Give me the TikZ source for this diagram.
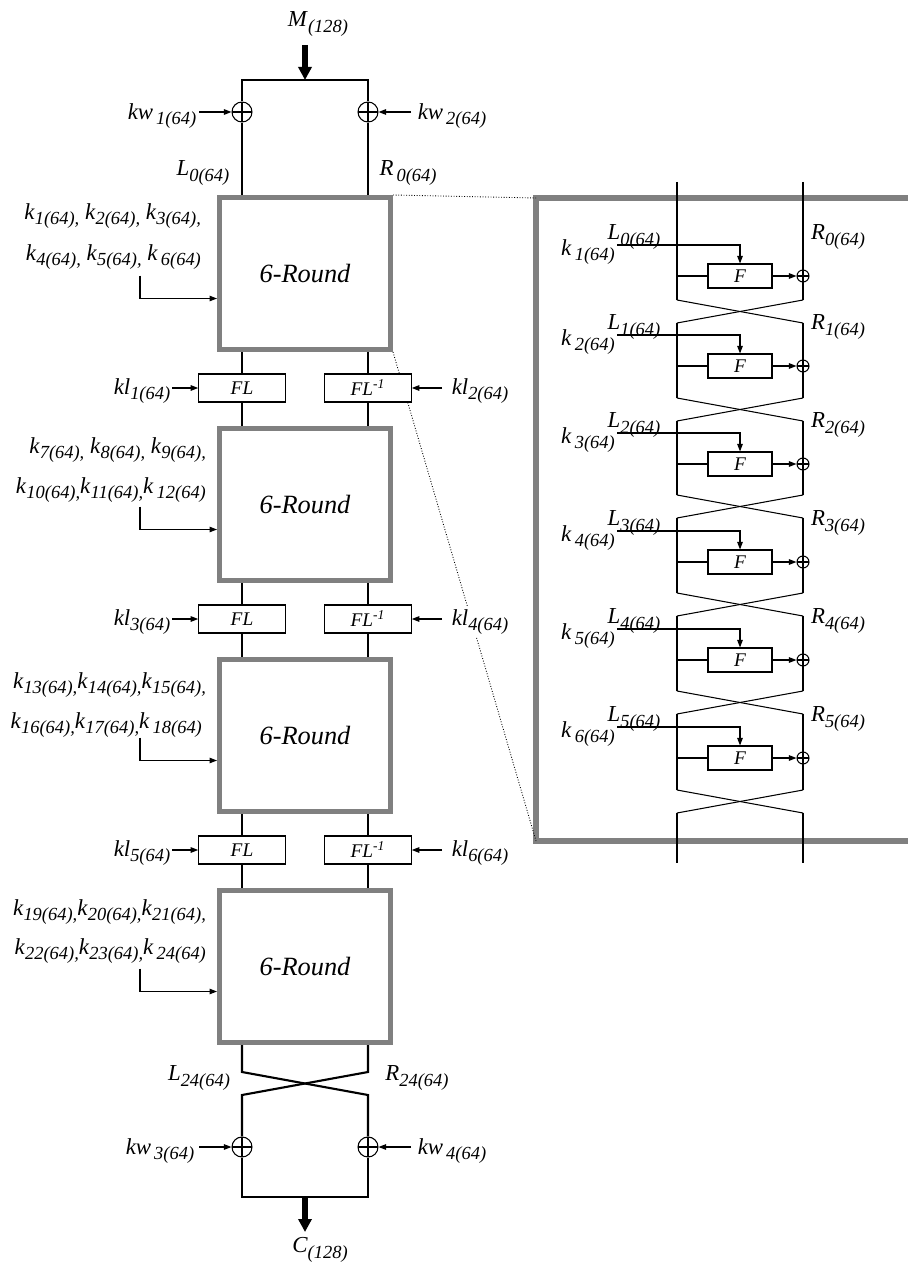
\documentclass[tikz,border=0pt]{standalone}
\usepackage{fontspec}
\setmainfont{Liberation Serif}
\usetikzlibrary{arrows.meta}

% italic symbol with italic subscript
\newcommand{\sbx}[2]{\textit{#1}\raisebox{-0.55ex}{\fontsize{10.5}{12}\selectfont\itshape #2}}
\newcommand{\kk}[1]{\sbx{k}{#1}}

\tikzset{
  lbl/.style={font=\fontsize{13}{15}\selectfont, inner sep=1pt},
  bus/.style={line width=1.2pt},
  thin line/.style={line width=0.6pt},
  arr/.style={line width=0.6pt, -{Triangle[width=1.1mm,length=1.5mm]}},
  fat/.style={line width=1.2mm, -{Triangle[width=2.6mm,length=2.6mm]}},
  xor/.style={circle, draw, line width=0.6pt, fill=white, minimum size=4mm, inner sep=0pt,
    path picture={\draw[line width=0.6pt]
      (path picture bounding box.north) -- (path picture bounding box.south)
      (path picture bounding box.west) -- (path picture bounding box.east);}},
  sxor/.style={xor, minimum size=2.4mm},
  rnd/.style={draw=black!50, line width=1mm, minimum width=34.2mm, minimum height=30.4mm,
    font=\fontsize{15}{18}\selectfont\itshape},
  flbox/.style={draw, line width=0.6pt, fill=white, minimum width=17.3mm, minimum height=5.6mm,
    inner sep=0pt, font=\fontsize{11}{13}\selectfont\itshape},
  fbox/.style={flbox, minimum width=12.8mm, minimum height=4.8mm},
  zoomline/.style={line width=0.5pt, densely dotted},
  panel/.style={draw=black!50, line width=1.1mm}
}

\begin{document}
\begin{tikzpicture}[x=0.2mm, y=-0.2mm]
  \useasboundingbox (0,0) rectangle (907,1269);

  % Input and first whitening
  \node[lbl] (msg) at (318,24) {\sbx{M}{(128)}};
  \coordinate (min) at (305,45);
  \coordinate (mtop) at (305,80);
  \node[xor] (xl0) at (242,112) {};
  \node[xor] (xr0) at (368,112) {};
  \draw[bus] (xl0) |- (mtop) -| (xr0);
  \draw[fat] (min) -- (mtop);
  \node[lbl] (kw1) at (162,116) {\sbx{kw}{\,1(64)}};
  \node[lbl] (kw2) at (452,116) {\sbx{kw}{\,2(64)}};
  \coordinate (kwa1) at (199,112);
  \coordinate (kwa2) at (411,112);
  \draw[arr] (kwa1) -- (xl0);
  \draw[arr] (kwa2) -- (xr0);
  \node[lbl] (l0) at (203,173) {\sbx{L}{0(64)}};
  \node[lbl] (r0) at (408,173) {\sbx{R}{\,0(64)}};

  % 6-round blocks
  \foreach \i/\c in {1/273.5,2/504.5,3/735.5,4/966.5}
    \node[rnd] (r\i) at (305,\c) {6-Round};

  % Zoomed panel frame and guide lines
  \coordinate (ptl) at (536,198);
  \coordinate (pbl) at (536,841);
  \draw[panel] (915,198) -| (pbl) -- (915,841);
  \draw[zoomline] (r1.north east) -- (ptl);
  \draw[zoomline] (r1.south east) -- (pbl);

  % Subkey groups
  \node[lbl, anchor=east] (kg1a) at (203,216) {\kk{1(64),} \kk{2(64),} \kk{3(64),}};
  \node[lbl, anchor=east] (kg1b) at (203,257) {\kk{4(64),} \kk{5(64),} \kk{\,6(64)}};
  \node[lbl, anchor=east] (kg2a) at (208,450) {\kk{7(64),} \kk{8(64),} \kk{9(64),}};
  \node[lbl, anchor=east] (kg2b) at (208,490) {\kk{10(64),}\kk{11(64),}\kk{\,12(64)}};
  \node[lbl, anchor=east] (kg3a) at (208,685) {\kk{13(64),}\kk{14(64),}\kk{15(64),}};
  \node[lbl, anchor=east] (kg3b) at (204,725) {\kk{16(64),}\kk{17(64),}\kk{\,18(64)}};
  \node[lbl, anchor=east] (kg4a) at (208,912) {\kk{19(64),}\kk{20(64),}\kk{21(64),}};
  \node[lbl, anchor=east] (kg4b) at (208,951) {\kk{22(64),}\kk{23(64),}\kk{\,24(64)}};
  \foreach \i/\c in {1/273.5,2/504.5,3/735.5,4/966.5}
    \draw[arr] (140,\c+2) |- ([yshift=-5mm]r\i.west);

  % FL layers
  \foreach \i/\c/\a/\b in {1/388/1/2, 2/619/3/4, 3/850/5/6} {
    \node[flbox] (fl\i) at (242,\c) {FL};
    \node[flbox] (fli\i) at (368,\c) {FL\textsuperscript{-1}};
    \node[lbl, fill=white] (kl\a) at (142,\c+3) {\sbx{kl}{\a(64)}};
    \node[lbl, fill=white] (kl\b) at (480,\c+3) {\sbx{kl}{\b(64)}};
    \coordinate (klb\i) at (442,\c);
    \draw[arr] (kl\a.east |- fl\i) -- (fl\i);
    \draw[arr] (klb\i) -- (fli\i);
  }

  % Data lines
  \draw[bus] (xl0) -- (r1.north -| xl0);
  \draw[bus] (xr0) -- (r1.north -| xr0);
  \foreach \i/\j in {1/2,2/3,3/4} {
    \draw[bus] (r\i.south -| fl\i) -- (fl\i);
    \draw[bus] (fl\i) -- (r\j.north -| fl\i);
    \draw[bus] (r\i.south -| fli\i) -- (fli\i);
    \draw[bus] (fli\i) -- (r\j.north -| fli\i);
  }

  % Final swap and output whitening
  \coordinate (cl) at (242,1072);
  \coordinate (cr) at (368,1072);
  \coordinate (dl) at (242,1095);
  \coordinate (dr) at (368,1095);
  \node[xor] (xl1) at (242,1147) {};
  \node[xor] (xr1) at (368,1147) {};
  \draw[bus] (r4.south -| cl) -- (cl) -- (dr) -- (xr1);
  \draw[bus] (r4.south -| cr) -- (cr) -- (dl) -- (xl1);
  \node[lbl] (l24) at (199,1078) {\sbx{L}{24(64)}};
  \node[lbl] (r24) at (417,1078) {\sbx{R}{24(64)}};
  \node[lbl] (kw3) at (160,1151) {\sbx{kw}{\,3(64)}};
  \node[lbl] (kw4) at (452,1151) {\sbx{kw}{\,4(64)}};
  \coordinate (kwa3) at (199,1147);
  \coordinate (kwa4) at (411,1147);
  \draw[arr] (kwa3) -- (xl1);
  \draw[arr] (kwa4) -- (xr1);
  \coordinate (mbot) at (305,1197);
  \coordinate (cout) at (305,1232);
  \draw[bus] (xl1) |- (mbot) -| (xr1);
  \draw[fat] (mbot) -- (cout);
  \node[lbl] (ctx) at (320,1250) {\sbx{C}{(128)}};

  % Zoomed view: Feistel rounds
  \foreach \s/\e in {182/300,323/398,421/495,518/593,616/691,714/790,813/863} {
    \draw[thin line] (677,\s) -- (677,\e);
    \draw[thin line] (803,\s) -- (803,\e);
  }
  \foreach \e in {300,398,495,593,691,790} {
    \draw[thin line] (677,\e) -- (803,\e+23);
    \draw[thin line] (803,\e) -- (677,\e+23);
  }
  \foreach \i/\c in {1/276,2/366,3/464,4/562,5/660,6/758} {
    \pgfmathtruncatemacro\j{\i-1}
    \node[fbox] (f\i) at (740,\c) {F};
    \node[sxor] (sx\i) at (803,\c) {};
    \node[lbl] (kr\i) at (588,\c-24) {\sbx{k}{\,\i(64)}};
    \node[lbl] (lr\i) at (634,\c-39) {\sbx{L}{\j(64)}};
    \node[lbl] (rr\i) at (838,\c-39) {\sbx{R}{\j(64)}};
    \coordinate (ks\i) at (617,\c-31);
    \coordinate (fw\i) at (677,\c);
    \draw[arr] (ks\i) -| (f\i);
    \draw[thin line] (fw\i) -- (f\i);
    \draw[arr] (f\i) -- (sx\i);
  }

\end{tikzpicture}
\end{document}
